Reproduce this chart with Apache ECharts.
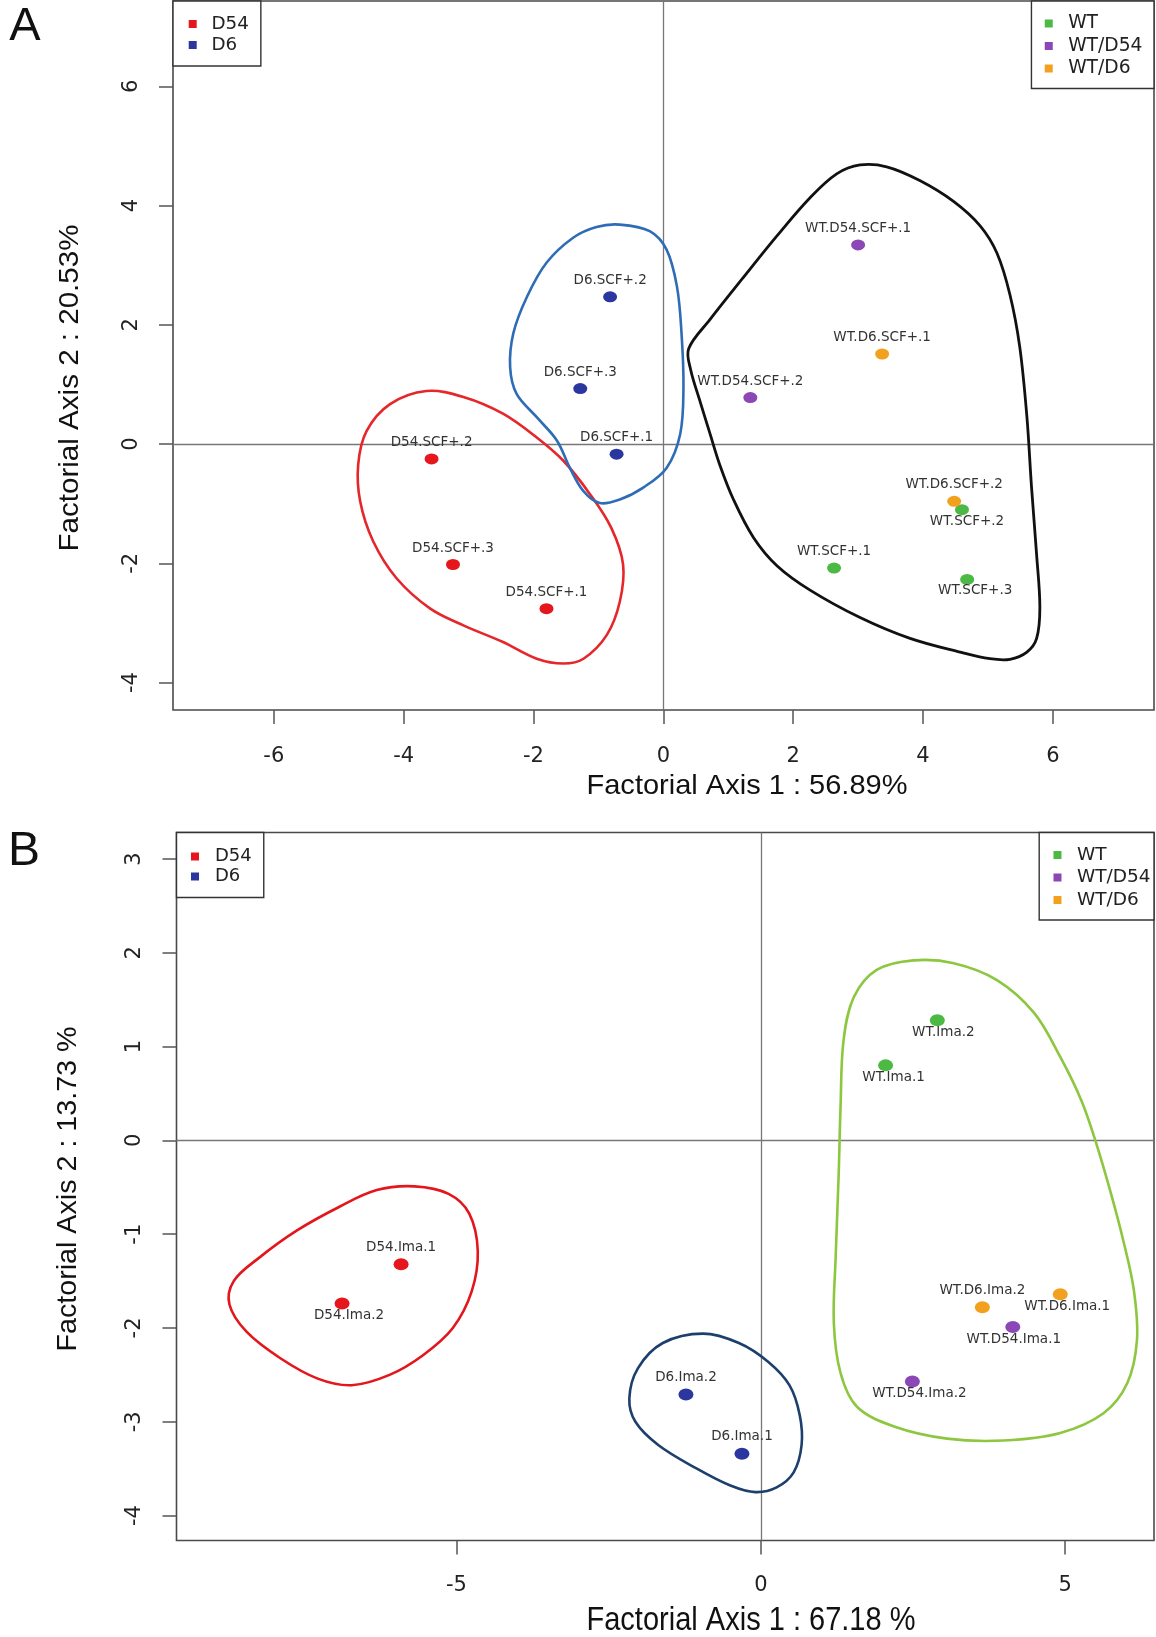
<!DOCTYPE html>
<html><head><meta charset="utf-8">
<script src="https://cdn.jsdelivr.net/npm/echarts@6/dist/echarts.min.js"></script>
<style>html,body{margin:0;padding:0;background:#fff}#c{width:1156px;height:1637px}</style>
</head><body><div id="c"></div>
<script>
// ===== Panel A (SCF+) : [label, Factorial Axis 1, Factorial Axis 2]
const A_D54    = [['D54.SCF+.1',-1.80,-2.76],['D54.SCF+.2',-3.57,-0.25],['D54.SCF+.3',-3.24,-2.02]];
const A_D6     = [['D6.SCF+.1',-0.72,-0.17],['D6.SCF+.2',-0.82,2.47],['D6.SCF+.3',-1.28,0.93]];
const A_WT     = [['WT.SCF+.1',2.63,-2.08],['WT.SCF+.2',4.60,-1.10],['WT.SCF+.3',4.68,-2.27]];
const A_WT_D54 = [['WT.D54.SCF+.1',3.00,3.34],['WT.D54.SCF+.2',1.34,0.78]];
const A_WT_D6  = [['WT.D6.SCF+.1',3.37,1.51],['WT.D6.SCF+.2',4.48,-0.96]];

// ===== Panel B (Ima)
const B_D54    = [['D54.Ima.1',-5.91,-1.32],['D54.Ima.2',-6.88,-1.74]];
const B_D6     = [['D6.Ima.1',-0.31,-3.34],['D6.Ima.2',-1.23,-2.71]];
const B_WT     = [['WT.Ima.1',2.05,0.80],['WT.Ima.2',2.90,1.28]];
const B_WT_D54 = [['WT.D54.Ima.1',4.14,-1.99],['WT.D54.Ima.2',2.49,-2.57]];
const B_WT_D6  = [['WT.D6.Ima.1',4.92,-1.64],['WT.D6.Ima.2',3.64,-1.78]];

// ===== Group outlines (closed curves, data coordinates)
const hullA_D54 = [[-3.65,0.89],[-3.08,0.79],[-2.47,0.51],[-1.95,0.11],[-1.54,-0.28],[-1.13,-0.84],[-0.80,-1.41],[-0.62,-2.02],[-0.67,-2.64],[-0.87,-3.20],[-1.23,-3.60],[-1.54,-3.68],[-1.95,-3.60],[-2.47,-3.32],[-3.08,-3.04],[-3.59,-2.76],[-4.11,-2.25],[-4.47,-1.63],[-4.67,-0.96],[-4.70,-0.34],[-4.57,0.22],[-4.21,0.67]];
const hullA_D6 = [[-0.67,3.68],[-0.21,3.57],[0.05,3.26],[0.21,2.64],[0.28,1.86],[0.31,0.96],[0.26,0.17],[0.05,-0.40],[-0.31,-0.73],[-0.67,-0.93],[-0.98,-0.99],[-1.23,-0.79],[-1.44,-0.40],[-1.64,0.06],[-1.95,0.45],[-2.26,0.84],[-2.36,1.29],[-2.31,1.86],[-2.10,2.47],[-1.80,3.04],[-1.39,3.46],[-1.03,3.64]];
const hullA_WT = [[0.39,1.60],[0.72,2.09],[1.23,2.79],[1.75,3.49],[2.26,4.13],[2.67,4.53],[3.03,4.68],[3.44,4.65],[3.95,4.42],[4.47,4.07],[4.88,3.66],[5.14,3.20],[5.34,2.50],[5.49,1.63],[5.60,0.46],[5.67,-0.70],[5.75,-1.86],[5.80,-2.74],[5.75,-3.26],[5.60,-3.49],[5.34,-3.61],[5.03,-3.60],[4.57,-3.49],[3.80,-3.26],[3.03,-2.91],[2.26,-2.45],[1.75,-2.04],[1.39,-1.57],[1.08,-0.93],[0.87,-0.35],[0.72,0.17],[0.57,0.70],[0.42,1.25]];
const hullB_D54 = [[-5.69,-0.49],[-5.13,-0.57],[-4.79,-0.78],[-4.65,-1.18],[-4.75,-1.61],[-5.06,-2.00],[-5.55,-2.29],[-6.10,-2.50],[-6.72,-2.61],[-7.28,-2.54],[-7.90,-2.32],[-8.45,-2.04],[-8.73,-1.75],[-8.66,-1.50],[-8.24,-1.25],[-7.62,-0.96],[-6.93,-0.71],[-6.31,-0.53]];
const hullB_D6 = [[-0.95,-2.06],[-0.36,-2.16],[0.12,-2.36],[0.47,-2.61],[0.64,-2.93],[0.67,-3.25],[0.54,-3.54],[0.26,-3.70],[-0.09,-3.75],[-0.50,-3.68],[-1.05,-3.50],[-1.68,-3.25],[-2.06,-3.00],[-2.16,-2.75],[-2.02,-2.43],[-1.61,-2.16]];
const hullB_WT = [[2.51,1.92],[3.17,1.89],[3.88,1.71],[4.49,1.36],[4.92,0.89],[5.27,0.42],[5.52,-0.05],[5.75,-0.56],[5.96,-1.08],[6.13,-1.60],[6.18,-2.13],[6.02,-2.59],[5.63,-2.91],[4.92,-3.12],[3.99,-3.20],[3.06,-3.18],[2.19,-3.05],[1.58,-2.84],[1.31,-2.48],[1.20,-1.95],[1.23,-1.24],[1.28,-0.35],[1.31,0.36],[1.36,1.07],[1.53,1.53],[1.91,1.82]];

// ===== Ticks and texts
const A_xTicks = [-6,-4,-2,0,2,4,6];
const A_yTicks = [-4,-2,0,2,4,6];
const B_xTicks = [-5,0,5];
const B_yTicks = [-4,-3,-2,-1,0,1,2,3];
const A_xTitle = 'Factorial Axis 1 : 56.89%';
const A_yTitle = 'Factorial Axis 2 : 20.53%';
const B_xTitle = 'Factorial Axis 1 : 67.18 %';
const B_yTitle = 'Factorial Axis 2 : 13.73 %';
const legendLeft = ['D54','D6'];
const legendRight = ['WT','WT/D54','WT/D6'];

// labels drawn below their point (others above)
const belowA = {'WT.SCF+.2':[5,-1],'WT.SCF+.3':[8,-1]};
const belowB = {'WT.Ima.2':[6,-1],'WT.Ima.1':[8,-1],'D54.Ima.2':[7,-1],'WT.D6.Ima.1':[7,-1],'WT.D54.Ima.1':[1,-1],'WT.D54.Ima.2':[7,-1]};

const COLORS = {'D54':'#e5161c','D6':'#2b379f','WT':'#4cb944','WT/D54':'#8b47b5','WT/D6':'#f2a11f'};
const FONT = 'DejaVu Sans';

function pointSeries(name, rows, gi, below, size) {
  return {
    type:'scatter', name, xAxisIndex:gi, yAxisIndex:gi, z:6,
    symbol:'circle', symbolSize:size, itemStyle:{color:COLORS[name], opacity:1},
    emphasis:{disabled:true}, animation:false,
    label:{show:true, formatter:'{b}', position:'top', distance:4, fontFamily:FONT, fontSize:13.5, color:'#333'},
    data: rows.map(r => {
      const it = {name:r[0], value:[r[1], r[2]]};
      if (below[r[0]]) it.label = {position:'bottom', distance:0, offset:below[r[0]]};
      return it;
    })
  };
}
function hullSeries(pts, color, gi, width, zero) {
  const s = {
    type:'custom', xAxisIndex:gi, yAxisIndex:gi, z:3, silent:true, animation:false,
    data: pts,
    renderItem: (params, api) => {
      if (params.dataIndex !== 0) return null;
      return {type:'polygon', shape:{points: pts.map(p => api.coord(p)), smooth:0.35},
              style:{fill:'none', stroke:color, lineWidth:width}};
    }
  };
  if (zero) s.markLine = {silent:true, z:2, symbol:'none', animation:false, label:{show:false},
      lineStyle:{color:'#777', width:1.3, type:'solid'}, emphasis:{disabled:true},
      data:[{xAxis:0},{yAxis:0}]};
  return s;
}
function xAx(gi, min, max, ticks, margin) {
  return {type:'value', gridIndex:gi, min, max, splitLine:{show:false},
    axisLine:{show:false, onZero:false},
    axisTick:{show:true, inside:false, length:14, customValues:ticks, lineStyle:{color:'#555', width:1.5}},
    axisLabel:{show:true, customValues:ticks, margin, fontFamily:FONT, fontSize:21, color:'#222'}};
}
function yAx(gi, min, max, ticks, margin) {
  const a = xAx(gi, min, max, ticks, margin);
  a.axisLabel.rotate = 90;
  return a;
}
function legend(names, pos, padding, gap, lh, textPad, fs) {
  return Object.assign({
    data: names, orient:'vertical', icon:'rect', itemWidth:8, itemHeight:8, itemGap:gap,
    selectedMode:false, padding, borderColor:'#333', borderWidth:1.4, backgroundColor:'#fff',
    textStyle:{fontFamily:FONT, fontSize:fs, color:'#222', lineHeight:lh, padding:[0,0,0,textPad]}
  }, pos);
}
function fitScale(text, font, target) {
  const c = document.createElement('canvas').getContext('2d');
  c.font = font;
  return target / c.measureText(text).width;
}
function title(text, x, y, size, target, rot) {
  const font = size + 'px "Liberation Sans"';
  return {type:'text', x, y, rotation: rot || 0, scaleX: fitScale(text, font, target), silent:true,
    style:{text, fontFamily:'Liberation Sans', fontSize:size, fill:'#111', align:'center', verticalAlign:'middle'}};
}

const chart = echarts.init(document.getElementById('c'), null, {renderer:'canvas'});
chart.setOption({
  backgroundColor:'#fff',
  animation:false,
  grid:[
    {left:173, top:1, right:2, height:709, show:true, borderColor:'#4a4a4a', borderWidth:1.6, backgroundColor:'transparent'},
    {left:176.5, top:832.5, right:2, height:708, show:true, borderColor:'#4a4a4a', borderWidth:1.6, backgroundColor:'transparent'}
  ],
  xAxis:[ xAx(0, -7.553, 7.558, A_xTicks, 36.5), xAx(1, -9.60, 6.46, B_xTicks, 35) ],
  yAxis:[ yAx(0, -4.46, 7.43, A_yTicks, 30.5), yAx(1, -4.266, 3.283, B_yTicks, 31) ],
  legend:[
    legend(legendLeft,  {left:173, top:1},   [14,12,12,15.7], 3,   18,   9.8, 18.3),
    legend(legendRight, {right:2, top:1},    [13,11.5,10.5,13.3], 3.5, 18.5, 10.4, 18.7),
    legend(legendLeft,  {left:176.5, top:832.5}, [15,12,12,14.5], 2, 18, 11, 18),
    legend(legendRight, {right:2, top:832.5}, [13,3.5,10.5,14.3], 3.5, 18.5, 10.4, 18.5)
  ],
  graphic:[
    {type:'text', x:25, y:27, silent:true, style:{text:'A', fontFamily:'Liberation Sans', fontSize:47, fill:'#111', align:'center', verticalAlign:'middle'}},
    {type:'text', x:24, y:852, silent:true, style:{text:'B', fontFamily:'Liberation Sans', fontSize:48, fill:'#111', align:'center', verticalAlign:'middle'}},
    title(A_xTitle, 747, 786, 28, 321),
    title(A_yTitle, 70, 388, 28, 327, Math.PI/2),
    title(B_xTitle, 751, 1621, 34, 329),
    title(B_yTitle, 68, 1189, 28, 325, Math.PI/2)
  ],
  series:[
    hullSeries(hullA_D54, '#e5262a', 0, 2.6, true),
    hullSeries(hullA_D6, '#2e6db6', 0, 2.6, false),
    hullSeries(hullA_WT, '#111111', 0, 2.8, false),
    pointSeries('D54', A_D54, 0, belowA, [14,11]),
    pointSeries('D6', A_D6, 0, belowA, [14,11]),
    pointSeries('WT', A_WT, 0, belowA, [14,11]),
    pointSeries('WT/D54', A_WT_D54, 0, belowA, [14,11]),
    pointSeries('WT/D6', A_WT_D6, 0, belowA, [14,11]),
    hullSeries(hullB_D54, '#e3161b', 1, 2.6, true),
    hullSeries(hullB_D6, '#1d3f6c', 1, 2.6, false),
    hullSeries(hullB_WT, '#8dc63f', 1, 2.6, false),
    pointSeries('D54', B_D54, 1, belowB, [15,12]),
    pointSeries('D6', B_D6, 1, belowB, [15,12]),
    pointSeries('WT', B_WT, 1, belowB, [15,12]),
    pointSeries('WT/D54', B_WT_D54, 1, belowB, [15,12]),
    pointSeries('WT/D6', B_WT_D6, 1, belowB, [15,12])
  ]
});
</script></body></html>
